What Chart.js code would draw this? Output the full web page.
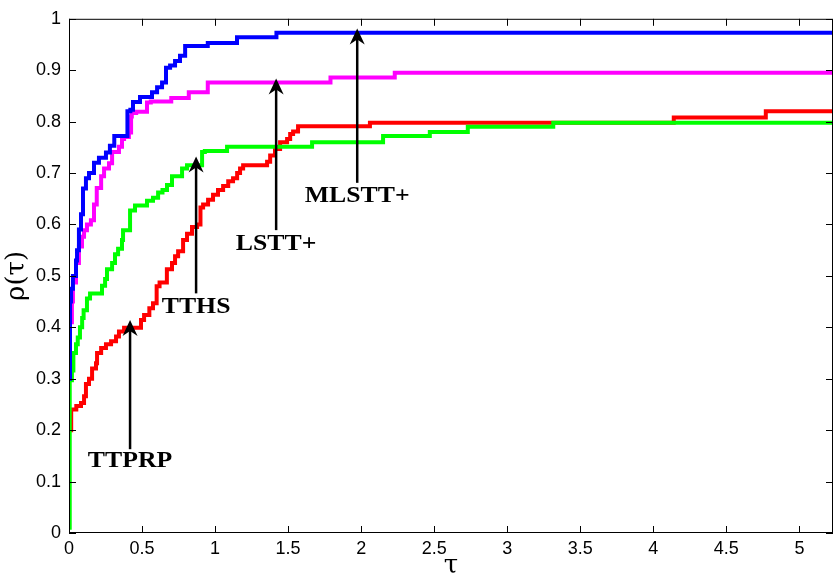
<!DOCTYPE html>
<html>
<head>
<meta charset="utf-8">
<script src="https://cdn.jsdelivr.net/npm/chart.js@4.4.1/dist/chart.umd.min.js"></script>
<style>
  html, body { margin: 0; padding: 0; background: #fff; }
</style>
</head>
<body>
<canvas id="profile" width="837" height="573"></canvas>
<script>
// performance profile values (tau, rho pairs per solver)
const xTicks = [0, 0.5, 1, 1.5, 2, 2.5, 3, 3.5, 4, 4.5, 5];
const yTicks = [0, 0.1, 0.2, 0.3, 0.4, 0.5, 0.6, 0.7, 0.8, 0.9, 1];
const tauMax = 5.23;

const tauMLSTT = [0, 0.007, 0.014, 0.027, 0.048, 0.055, 0.068, 0.082, 0.096, 0.116, 0.137, 0.171, 0.205, 0.253, 0.28, 0.31, 0.40, 0.42, 0.438, 0.486, 0.568, 0.603, 0.637, 0.664, 0.692, 0.726, 0.76, 0.795, 0.95, 1.15, 1.42, 5.23];
const rhoMLSTT = [0.30, 0.45, 0.475, 0.50, 0.53, 0.55, 0.59, 0.62, 0.67, 0.69, 0.70, 0.72, 0.73, 0.74, 0.753, 0.772, 0.82, 0.823, 0.838, 0.848, 0.857, 0.867, 0.876, 0.905, 0.909, 0.918, 0.928, 0.947, 0.953, 0.964, 0.973, 0.973];

const tauLSTT = [0, 0.007, 0.02, 0.027, 0.048, 0.068, 0.089, 0.103, 0.123, 0.15, 0.171, 0.19, 0.22, 0.24, 0.274, 0.295, 0.342, 0.363, 0.377, 0.41, 0.425, 0.43, 0.46, 0.534, 0.56, 0.70, 0.82, 0.95, 1.79, 2.23, 5.23];
const rhoLSTT = [0.40, 0.41, 0.45, 0.487, 0.525, 0.557, 0.576, 0.589, 0.60, 0.608, 0.639, 0.671, 0.694, 0.709, 0.719, 0.741, 0.751, 0.766, 0.77, 0.779, 0.81, 0.817, 0.819, 0.837, 0.839, 0.846, 0.857, 0.876, 0.886, 0.895, 0.895];

const tauTTHS = [0, 0.005, 0.02, 0.03, 0.048, 0.06, 0.075, 0.09, 0.1, 0.123, 0.144, 0.226, 0.247, 0.26, 0.295, 0.315, 0.336, 0.363, 0.37, 0.418, 0.452, 0.534, 0.575, 0.61, 0.64, 0.671, 0.705, 0.774, 0.808, 0.911, 0.93, 1.082, 1.664, 2.15, 2.47, 2.73, 3.315, 5.23];
const rhoTTHS = [0.01, 0.297, 0.316, 0.35, 0.367, 0.38, 0.40, 0.418, 0.433, 0.456, 0.466, 0.481, 0.494, 0.513, 0.525, 0.542, 0.553, 0.57, 0.589, 0.627, 0.637, 0.646, 0.652, 0.662, 0.667, 0.677, 0.694, 0.709, 0.715, 0.741, 0.743, 0.751, 0.76, 0.772, 0.78, 0.79, 0.798, 0.798];

const tauTTPRP = [0, 0.015, 0.05, 0.082, 0.103, 0.116, 0.137, 0.158, 0.185, 0.192, 0.22, 0.253, 0.288, 0.322, 0.342, 0.377, 0.493, 0.514, 0.55, 0.575, 0.60, 0.62, 0.67, 0.705, 0.726, 0.747, 0.781, 0.808, 0.842, 0.877, 0.90, 0.918, 0.952, 0.986, 1.02, 1.055, 1.09, 1.123, 1.151, 1.171, 1.192, 1.356, 1.377, 1.41, 1.445, 1.493, 1.514, 1.534, 1.568, 2.06, 4.14, 4.77, 5.23];
const rhoTTPRP = [0.20, 0.24, 0.247, 0.253, 0.266, 0.29, 0.30, 0.32, 0.33, 0.35, 0.36, 0.367, 0.373, 0.382, 0.392, 0.399, 0.414, 0.424, 0.437, 0.447, 0.48, 0.487, 0.513, 0.525, 0.538, 0.548, 0.57, 0.582, 0.595, 0.60, 0.633, 0.639, 0.648, 0.658, 0.667, 0.675, 0.684, 0.69, 0.70, 0.709, 0.715, 0.722, 0.734, 0.747, 0.76, 0.766, 0.776, 0.781, 0.791, 0.798, 0.808, 0.82, 0.82];

// arrows + labels, in data units
const notes = [
  { text: 'TTPRP',  x: 0.418, tip: 0.414, tail: 0.163, ty: 0.139 },
  { text: 'TTHS',   x: 0.870, tip: 0.732, tail: 0.466, ty: 0.439 },
  { text: 'LSTT+',  x: 1.418, tip: 0.884, tail: 0.589, ty: 0.561 },
  { text: 'MLSTT+', x: 1.973, tip: 0.981, tail: 0.681, ty: 0.656 }
];

function pairs(xs, ys) {
  return xs.map((v, i) => ({ x: v, y: ys[i] }));
}

function series(label, xs, ys, colour) {
  return {
    label: label,
    data: pairs(xs, ys),
    borderColor: colour,
    borderWidth: 4,
    stepped: 'before',
    pointRadius: 0,
    fill: false,
    borderCapStyle: 'butt',
    borderJoinStyle: 'miter'
  };
}

const tickFont = { family: '"Liberation Sans", Arial, sans-serif', size: 18 };

// MATLAB-ish box with inward ticks on all four sides, then the arrows
const frame = {
  id: 'frame',
  afterDatasetsDraw(chart) {
    const { ctx, chartArea: a, scales: { x, y } } = chart;
    ctx.save();
    ctx.strokeStyle = '#000';
    ctx.lineWidth = 1;
    ctx.strokeRect(a.left + 0.5, a.top + 0.5, a.right - a.left - 1, a.bottom - a.top - 1);
    ctx.beginPath();
    xTicks.forEach(v => {
      const px = Math.round(x.getPixelForValue(v)) + 0.5;
      ctx.moveTo(px, a.bottom); ctx.lineTo(px, a.bottom - 7);
      ctx.moveTo(px, a.top); ctx.lineTo(px, a.top + 7);
    });
    yTicks.forEach(v => {
      const py = Math.round(y.getPixelForValue(v)) + 0.5;
      ctx.moveTo(a.left, py); ctx.lineTo(a.left + 7, py);
      ctx.moveTo(a.right, py); ctx.lineTo(a.right - 7, py);
    });
    ctx.stroke();

    ctx.fillStyle = '#000';
    notes.forEach(n => {
      const px = x.getPixelForValue(n.x);
      const tip = y.getPixelForValue(n.tip);
      const tail = y.getPixelForValue(n.tail);
      ctx.lineWidth = 2.5;
      ctx.beginPath();
      ctx.moveTo(px, tail);
      ctx.lineTo(px, tip + 9);
      ctx.stroke();
      ctx.beginPath();
      ctx.moveTo(px, tip);
      ctx.lineTo(px - 7.5, tip + 16);
      ctx.lineTo(px, tip + 11);
      ctx.lineTo(px + 7.5, tip + 16);
      ctx.closePath();
      ctx.fill();

      ctx.save();
      ctx.translate(px, y.getPixelForValue(n.ty));
      ctx.scale(1.12, 1);
      ctx.font = 'bold 23px "Liberation Serif", "Times New Roman", serif';
      ctx.textAlign = 'center';
      ctx.textBaseline = 'middle';
      ctx.fillText(n.text, 0, 0);
      ctx.restore();
    });
    ctx.restore();
  }
};

new Chart(document.getElementById('profile'), {
  type: 'line',
  data: {
    datasets: [
      series('MLSTT+', tauMLSTT, rhoMLSTT, '#0000ff'),
      series('LSTT+', tauLSTT, rhoLSTT, '#ff00ff'),
      series('TTHS', tauTTHS, rhoTTHS, '#00ff00'),
      series('TTPRP', tauTTPRP, rhoTTPRP, '#ff0000')
    ]
  },
  options: {
    responsive: false,
    animation: false,
    layout: { autoPadding: false, padding: { left: 0, right: 4, top: 7, bottom: 0 } },
    plugins: { legend: { display: false }, tooltip: { enabled: false } },
    scales: {
      x: {
        type: 'linear',
        min: 0,
        max: tauMax,
        afterBuildTicks: s => { s.ticks = xTicks.map(v => ({ value: v })); },
        afterFit: s => { s.height = 40; },
        grid: { display: false, drawTicks: false },
        border: { display: false },
        ticks: { font: tickFont, color: '#000', padding: 5, maxRotation: 0, autoSkip: false, callback: v => String(v) },
        title: { display: true, text: 'τ', color: '#000', padding: 0,
                 font: { family: '"DejaVu Serif", serif', size: 26, lineHeight: 0.55 } }
      },
      y: {
        min: 0,
        max: 1,
        afterBuildTicks: s => { s.ticks = yTicks.map(v => ({ value: v })); },
        afterFit: s => { s.width = 69; },
        grid: { display: false, drawTicks: false },
        border: { display: false },
        ticks: { font: tickFont, color: '#000', padding: 8, autoSkip: false, callback: v => String(v) },
        title: { display: true, text: 'ρ(τ)', color: '#000', padding: { top: 2, bottom: 0 },
                 font: { family: '"DejaVu Serif", serif', size: 26, lineHeight: 1.2 } }
      }
    }
  },
  plugins: [frame]
});
</script>
</body>
</html>
